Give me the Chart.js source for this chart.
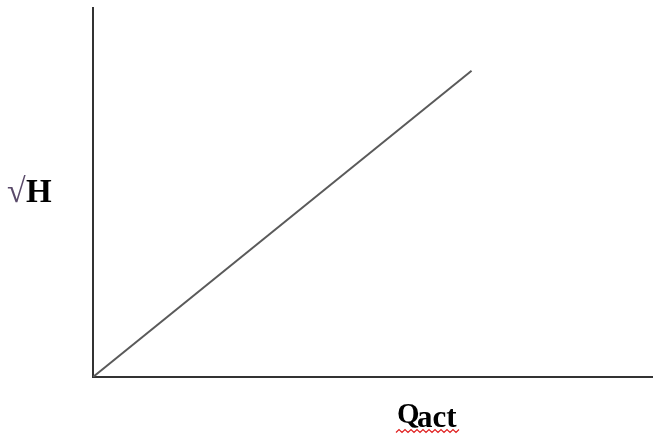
<!DOCTYPE html>
<html>
<head>
<meta charset="utf-8">
<script src="https://cdn.jsdelivr.net/npm/chart.js@4/dist/chart.umd.min.js"></script>
<style>
  html, body { margin: 0; padding: 0; background: #fff; }
  #wrap { position: relative; width: 653px; height: 438px; }
</style>
</head>
<body>
<div id="wrap"><canvas id="plot"></canvas></div>
<script>
// Straight line through the origin: sqrt(H) against Q actual (no units shown)
const qAct = [0, 6.76];
const sqrtH = [0, 8.3];
const xRange = [0, 10];
const yRange = [0, 10];

// Axis labels, drawn beside the axes like the original figure
const labelPlugin = {
    id: "axisLabels",
    afterDraw(chart) {
        const ctx = chart.ctx;
        ctx.save();
        ctx.textBaseline = "alphabetic";
        // y label: root sign + H
        ctx.font = "34px 'Liberation Serif'";
        ctx.fillStyle = "#5a4a6a";
        ctx.fillText("√", 7, 202);
        ctx.fillStyle = "#000";
        ctx.font = "bold 33px 'Liberation Serif'";
        ctx.fillText("H", 26, 202);
        // x label: Q with "act"
        ctx.font = "bold 29px 'Liberation Serif'";
        ctx.fillText("Q", 397, 423);
        ctx.font = "bold 31px 'Liberation Serif'";
        ctx.fillText("act", 417, 427);
        // spell-check squiggle under "act"
        ctx.strokeStyle = "#e02020";
        ctx.lineWidth = 1.2;
        ctx.beginPath();
        for (let x = 396, i = 0; x <= 459; x += 3, i++) {
            const y = i % 2 ? 429.5 : 432.5;
            if (i === 0) ctx.moveTo(x, y); else ctx.lineTo(x, y);
        }
        ctx.stroke();
        ctx.restore();
    }
};

const ctx = document.getElementById("plot").getContext("2d");
new Chart(ctx, {
    type: "line",
    data: {
        datasets: [{
            label: "sqrt(H) vs Qact",
            data: qAct.map((q, i) => ({ x: q, y: sqrtH[i] })),
            borderColor: "#5a5a5a",
            borderWidth: 2,
            pointRadius: 0,
            fill: false,
            tension: 0
        }]
    },
    options: {
        responsive: true,
        maintainAspectRatio: false,
        animation: false,
        layout: { padding: { left: 85, top: 8, right: 0, bottom: 53 } },
        plugins: {
            legend: { display: false },
            tooltip: { enabled: false }
        },
        scales: {
            x: {
                type: "linear",
                min: xRange[0],
                max: xRange[1],
                grid: { display: false },
                ticks: { display: false },
                border: { display: true, color: "#333", width: 2 }
            },
            y: {
                type: "linear",
                min: yRange[0],
                max: yRange[1],
                grid: { display: false },
                ticks: { display: false },
                border: { display: true, color: "#333", width: 2 }
            }
        }
    },
    plugins: [labelPlugin]
});
</script>
</body>
</html>
